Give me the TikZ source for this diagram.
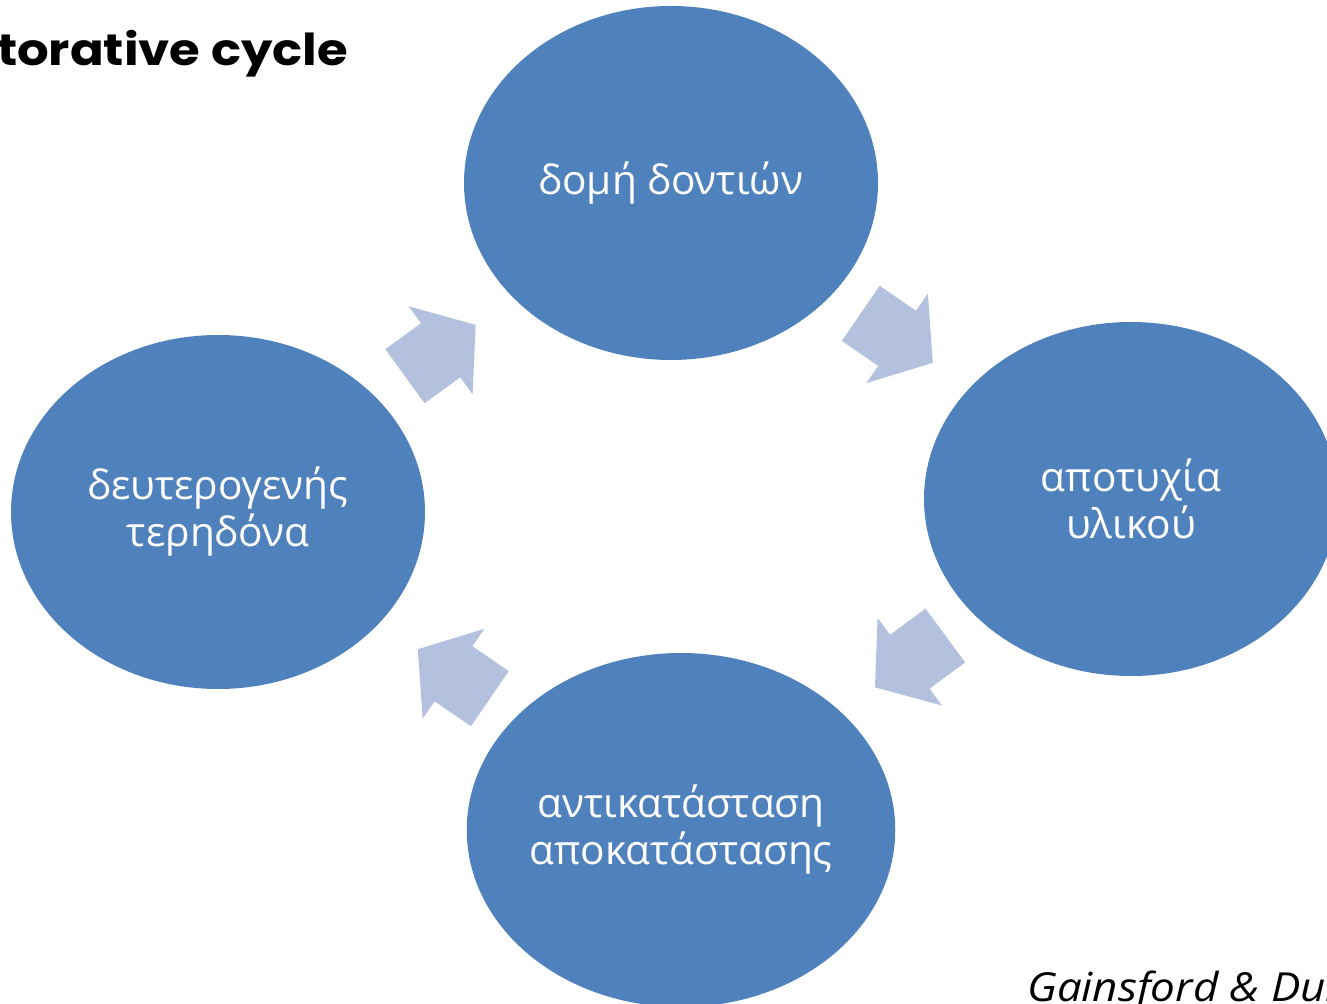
\documentclass[tikz,border=0pt]{standalone}
\usepackage{fontspec}
\setmainfont{Open Sans}
\newfontfamily\titlefont{Poppins}[FakeStretch=1.13]
\newfontfamily\sourcefont{Open Sans}[FakeStretch=1.1]
\usetikzlibrary{shapes.geometric,shapes.arrows}
\definecolor{cycleblue}{HTML}{4F81BD}
\definecolor{arrowblue}{HTML}{B3C1DE}
\begin{document}
\begin{tikzpicture}[x=0.5pt,y=0.5pt,
    stage/.style={ellipse, fill=cycleblue, text=white, align=center, inner sep=0pt,
        minimum width=207pt, minimum height=177pt, font=\fontsize{20.3}{23.5}\selectfont},
    cyclearrow/.style={single arrow, fill=arrowblue, inner xsep=15pt, inner ysep=16.5pt,
        single arrow head extend=10.5pt, single arrow tip angle=103,
        sloped, allow upside down, pos=0.467}]
    \useasboundingbox (0,0) rectangle (1327,-1004);
    \node [anchor=base east, font=\titlefont\bfseries\fontsize{22}{26}\selectfont] (title) at (355,-66) {torative cycle};
    \node [stage] (struct) at (671,-183) {δομή δοντιών};
    \node [stage] (failure) at (1131,-499) {αποτυχία\\υλικού};
    \node [stage, minimum width=213pt] (replace) at (681,-830) {αντικατάσταση\\αποκατάστασης};
    \node [stage] (caries) at (218,-512) {δευτερογενής\\τερηδόνα};
    % arrows round the cycle
    \path (caries.center) -- node [cyclearrow] (arrA) {} (struct.center);
    \path (struct.center) -- node [cyclearrow] (arrB) {} (failure.center);
    \path (failure.center) -- node [cyclearrow] (arrC) {} (replace.center);
    \path (replace.center) -- node [cyclearrow] (arrD) {} (caries.center);
    \node [anchor=base west, font=\sourcefont\itshape\fontsize{20}{24}\selectfont] (source) at (1020,-1001) {Gainsford \& Dun};
\end{tikzpicture}
\end{document}
